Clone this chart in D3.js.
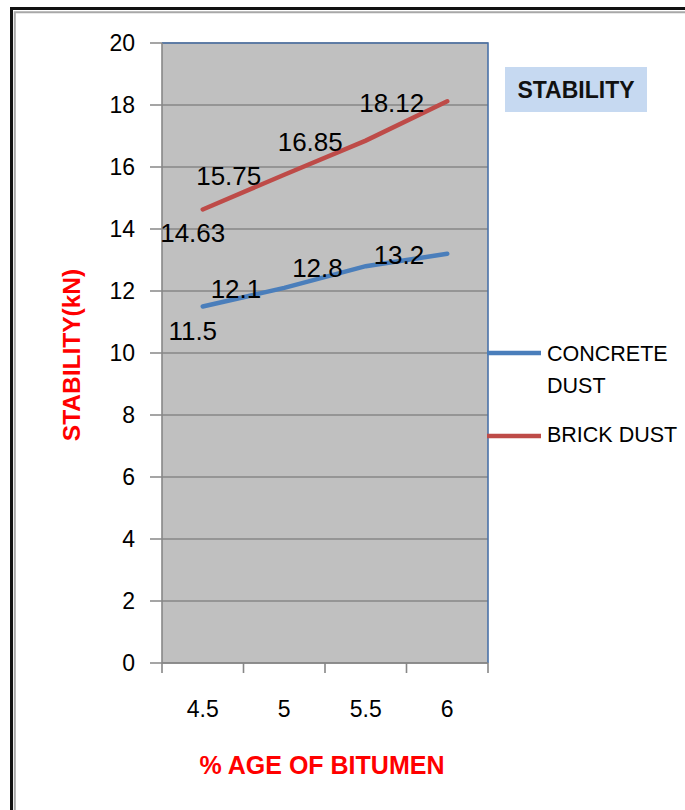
<!DOCTYPE html>
<html><head><meta charset="utf-8">
<script src="https://cdn.jsdelivr.net/npm/d3@7"></script>
<style>body{margin:0;background:#fff}svg{display:block}</style>
</head><body>
<svg id="c" width="685" height="810"></svg>
<script>
const categories = ["4.5", "5", "5.5", "6"];
const concreteDust = [11.5, 12.1, 12.8, 13.2];
const brickDust = [14.63, 15.75, 16.85, 18.12];
const yTicks = [0, 2, 4, 6, 8, 10, 12, 14, 16, 18, 20];
const seriesNames = ["CONCRETE DUST", "BRICK DUST"];
const chartTitle = "STABILITY";
const xTitle = "% AGE OF BITUMEN";
const yTitle = "STABILITY(kN)";

const svg = d3.select("#c");
const L = 162, R = 488, T = 43, B = 663;
const x = d3.scaleBand().domain(categories).range([L, R]);
const y = d3.scaleLinear().domain([0, 20]).range([B, T]);
const numFont = "'Liberation Sans', Arial, sans-serif";

// outer frame
svg.append("path").attr("d", "M11.5,810 V8.5 H685").attr("fill","none").attr("stroke","#111").attr("stroke-width",3);
svg.append("path").attr("d", "M14.8,810 V12.2 H685").attr("fill","none").attr("stroke","#a8a8a8").attr("stroke-width",2);

// plot area
svg.append("rect").attr("x", L).attr("y", T).attr("width", R - L).attr("height", B - T).attr("fill", "#c0c0c0");

// gridlines
svg.append("g").selectAll("line").data(yTicks).join("line")
  .attr("x1", L - 12).attr("x2", R).attr("y1", d => y(d)).attr("y2", d => y(d))
  .attr("stroke", "#878787").attr("stroke-width", 1.6);

// plot border (blue top/right)
svg.append("path").attr("d", `M${L},${T} H${R} V${B}`).attr("fill","none").attr("stroke","#4a72a8").attr("stroke-width",1.6);

// y axis line
svg.append("line").attr("x1", L).attr("x2", L).attr("y1", T).attr("y2", B).attr("stroke","#878787").attr("stroke-width",1.6);
// x axis line + ticks
svg.append("line").attr("x1", L).attr("x2", R).attr("y1", B).attr("y2", B).attr("stroke","#878787").attr("stroke-width",1.6);
const edges = categories.map(c => x(c)).concat([R]);
svg.append("g").selectAll("line").data(edges).join("line")
  .attr("x1", d => d).attr("x2", d => d).attr("y1", B).attr("y2", B + 10)
  .attr("stroke", "#878787").attr("stroke-width", 1.6);

// y tick labels
svg.append("g").selectAll("text").data(yTicks).join("text")
  .attr("x", 135).attr("y", d => y(d)).attr("dy", "0.35em")
  .attr("text-anchor", "end").attr("font-family", numFont).attr("font-size", 23)
  .attr("fill", "#000").text(d => d);

// x tick labels
svg.append("g").selectAll("text").data(categories).join("text")
  .attr("x", d => x(d) + x.bandwidth() / 2).attr("y", 717)
  .attr("text-anchor", "middle").attr("font-family", numFont).attr("font-size", 23)
  .attr("fill", "#000").text(d => d);

// lines
const colors = ["#4a7ebb", "#be4b48"];
const series = [concreteDust, brickDust];
const line = d3.line().x((d, i) => x(categories[i]) + x.bandwidth() / 2).y(d => y(d));
series.forEach((s, k) => {
  svg.append("path").datum(s).attr("d", line).attr("fill", "none")
    .attr("stroke", colors[k]).attr("stroke-width", 4.5).attr("stroke-linecap", "round");
});

// data labels
series.forEach((s, k) => {
  svg.append("g").selectAll("text").data(s).join("text")
    .attr("x", (d, i) => x(categories[i]) + x.bandwidth() / 2 + (i === 0 ? -10 : -23))
    .attr("y", (d, i) => y(d) + (i === 0 ? 33 : 10.5))
    .attr("text-anchor", (d, i) => i === 0 ? "middle" : "end")
    .attr("font-family", numFont).attr("font-size", 26).attr("fill", "#000")
    .text(d => d);
});

// title box
svg.append("rect").attr("x", 505).attr("y", 67).attr("width", 142).attr("height", 45).attr("fill", "#c6d9f1");
svg.append("text").attr("x", 576).attr("y", 89.5).attr("dy", "0.35em").attr("text-anchor", "middle")
  .attr("font-family", numFont).attr("font-weight", "bold").attr("font-size", 23).attr("fill", "#111")
  .text(chartTitle);

// legend
const legY = [353, 436];
legY.forEach((ly, k) => {
  svg.append("line").attr("x1", 487).attr("x2", 541).attr("y1", ly).attr("y2", ly)
    .attr("stroke", colors[k]).attr("stroke-width", 4.5);
});
const concreteWords = seriesNames[0].split(" ");
svg.append("text").attr("x", 547).attr("y", 353).attr("dy", "0.35em").attr("font-family", numFont)
  .attr("font-size", 21.5).attr("fill", "#000").text(concreteWords[0]);
svg.append("text").attr("x", 547).attr("y", 385).attr("dy", "0.35em").attr("font-family", numFont)
  .attr("font-size", 21.5).attr("fill", "#000").text(concreteWords[1]);
svg.append("text").attr("x", 547).attr("y", 434).attr("dy", "0.35em").attr("font-family", numFont)
  .attr("font-size", 21.5).attr("fill", "#000").text(seriesNames[1]);

// axis titles
svg.append("text").attr("x", 322).attr("y", 765).attr("dy", "0.35em").attr("text-anchor", "middle")
  .attr("font-family", numFont).attr("font-weight", "bold").attr("font-size", 25).attr("fill", "#ff0000")
  .text(xTitle);
svg.append("text").attr("transform", "translate(71,355) rotate(-90)").attr("dy", "0.35em").attr("text-anchor", "middle")
  .attr("font-family", numFont).attr("font-weight", "bold").attr("font-size", 24.5).attr("fill", "#ff0000")
  .text(yTitle);
</script>
</body></html>
